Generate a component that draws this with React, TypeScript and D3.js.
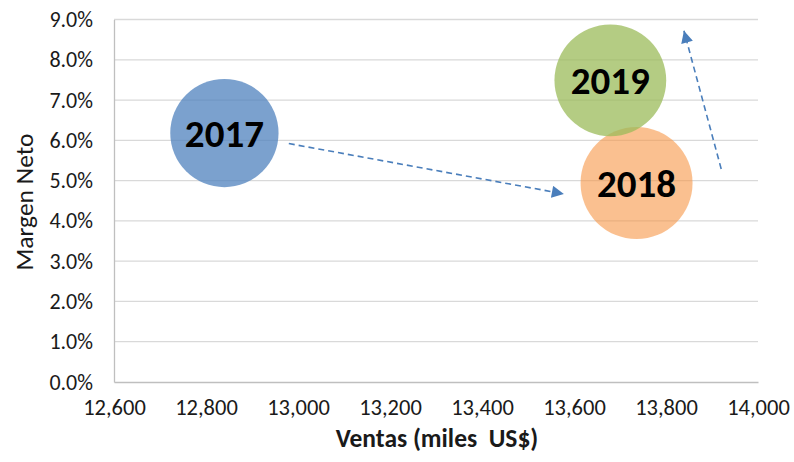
import React, { useEffect, useRef } from 'react'
import * as d3 from 'd3'

// datos
const years = ['2017', '2018', '2019']
const ventas = [12840, 13736, 13679]
const margen = [6.18, 4.94, 7.49]
const bubbleSize = [12840, 13736, 13679]
const colors = ['#4F81BD', '#F79646', '#9BBB59']
const opacities = [0.75, 0.6, 0.75]

const xTicks = [12600, 12800, 13000, 13200, 13400, 13600, 13800, 14000]
const yTicks = [0, 1, 2, 3, 4, 5, 6, 7, 8, 9]

// flechas (en unidades de datos)
const arrowsFrom = [[12980, 5.92], [13920, 5.29]]
const arrowsTo = [[13578, 4.67], [13839, 8.72]]

const FONT = "Carlito, Lato, 'Open Sans', sans-serif"

export default function App() {
  const ref = useRef<SVGSVGElement>(null)

  useEffect(() => {
    const width = 794
    const height = 462
    const margin = { top: 19.5, right: 36, bottom: 80, left: 114 }

    const svg = d3.select(ref.current)
    svg.selectAll('*').remove()

    const x = d3.scaleLinear()
      .domain([12600, 14000])
      .range([margin.left, width - margin.right])

    const y = d3.scaleLinear()
      .domain([0, 9])
      .range([height - margin.bottom, margin.top])

    const r = d3.scaleSqrt()
      .domain([0, d3.max(bubbleSize) as number])
      .range([0, 56])

    // grid
    svg.append('g')
      .selectAll('line')
      .data(yTicks.filter(d => d > 0))
      .join('line')
      .attr('x1', x(12600))
      .attr('x2', x(14000))
      .attr('y1', d => y(d))
      .attr('y2', d => y(d))
      .attr('stroke', '#D9D9D9')
      .attr('stroke-width', 1.3)

    // ejes
    const yAxis = svg.append('g')
      .attr('transform', `translate(${margin.left},0)`)
      .call(d3.axisLeft(y).tickValues(yTicks).tickSize(0).tickPadding(21)
        .tickFormat(d => (d as number).toFixed(1) + '%'))
    yAxis.select('.domain').attr('stroke', '#BFBFBF').attr('stroke-width', 1.3)
    yAxis.selectAll('text')
      .attr('font-family', FONT).attr('font-size', 22).attr('fill', '#1a1a1a')

    const xAxis = svg.append('g')
      .attr('transform', `translate(0,${height - margin.bottom})`)
      .call(d3.axisBottom(x).tickValues(xTicks).tickSize(0).tickPadding(17)
        .tickFormat(d3.format(',')))
    xAxis.select('.domain').attr('stroke', '#BFBFBF').attr('stroke-width', 1.3)
    xAxis.selectAll('text')
      .attr('font-family', FONT).attr('font-size', 22.5).attr('fill', '#1a1a1a')

    // titulos de ejes
    svg.append('text')
      .attr('transform', `translate(33,202) rotate(-90)`)
      .attr('text-anchor', 'middle')
      .attr('font-family', FONT)
      .attr('font-size', 25.5)
      .attr('fill', '#1a1a1a')
      .text('Margen Neto')

    svg.append('text')
      .attr('x', 437)
      .attr('y', 447)
      .attr('text-anchor', 'middle')
      .attr('font-family', FONT)
      .attr('font-weight', 'bold')
      .attr('font-size', 25.5)
      .attr('fill', '#1a1a1a')
      .style('white-space', 'pre')
      .text('Ventas (miles  US$)')

    // burbujas
    const idx = d3.range(years.length)
    svg.append('g')
      .selectAll('circle')
      .data(idx)
      .join('circle')
      .attr('cx', i => x(ventas[i]))
      .attr('cy', i => y(margen[i]))
      .attr('r', i => r(bubbleSize[i]))
      .attr('fill', i => colors[i])
      .attr('fill-opacity', i => opacities[i])

    svg.append('g')
      .selectAll('text')
      .data(idx)
      .join('text')
      .attr('x', i => x(ventas[i]))
      .attr('y', i => y(margen[i]))
      .attr('dy', '0.36em')
      .attr('text-anchor', 'middle')
      .attr('font-family', FONT)
      .attr('font-weight', 'bold')
      .attr('font-size', 39)
      .attr('fill', '#000')
      .text(i => years[i])

    // flechas
    svg.append('defs').append('marker')
      .attr('id', 'head')
      .attr('viewBox', '0 0 10 10')
      .attr('refX', 10)
      .attr('refY', 5)
      .attr('markerWidth', 13)
      .attr('markerHeight', 12)
      .attr('markerUnits', 'userSpaceOnUse')
      .attr('orient', 'auto')
      .append('path')
      .attr('d', 'M0,0L10,5L0,10Z')
      .attr('fill', '#4A7EBB')

    svg.append('g')
      .selectAll('line')
      .data(d3.range(arrowsFrom.length))
      .join('line')
      .attr('x1', i => x(arrowsFrom[i][0]))
      .attr('y1', i => y(arrowsFrom[i][1]))
      .attr('x2', i => x(arrowsTo[i][0]))
      .attr('y2', i => y(arrowsTo[i][1]))
      .attr('stroke', '#4A7EBB')
      .attr('stroke-width', 1.6)
      .attr('stroke-dasharray', '6,4')
      .attr('marker-end', 'url(#head)')
  }, [])

  return (
    <div style={{ position: 'absolute', left: 0, top: 0 }}>
      <svg ref={ref} width={794} height={462} style={{ display: 'block', background: '#fff' }} />
    </div>
  )
}
